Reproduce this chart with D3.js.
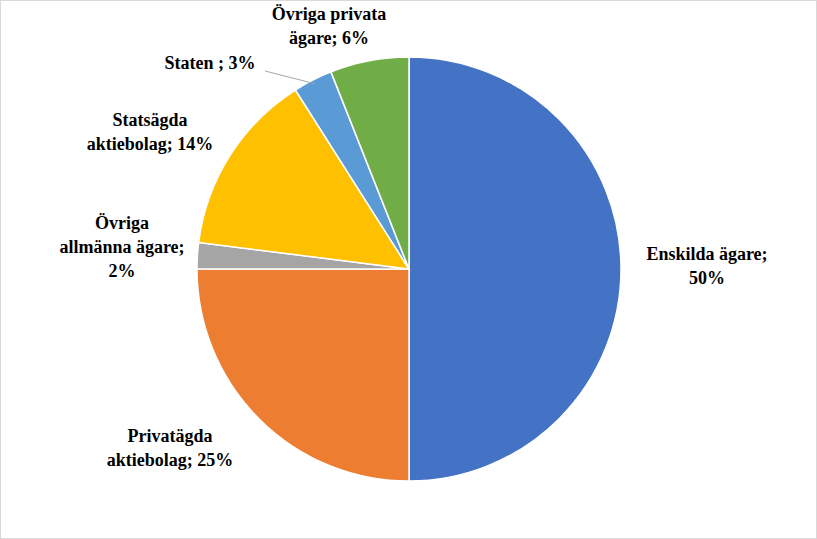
<!DOCTYPE html>
<html><head><meta charset="utf-8">
<script src="https://cdn.jsdelivr.net/npm/d3@7"></script>
<style>body{margin:0;background:#fff}</style>
</head><body><div id="chart"></div>
<script>
const categories = ["Enskilda ägare", "Privatägda aktiebolag", "Övriga allmänna ägare", "Statsägda aktiebolag", "Staten ", "Övriga privata ägare"];
const values = [50, 25, 2, 14, 3, 6];
const colors = ["#4472C4", "#ED7D31", "#A5A5A5", "#FFC000", "#5B9BD5", "#70AD47"];
// label lines + anchor position for each slice
const labelLines = [["Enskilda ägare;", "50%"], ["Privatägda", "aktiebolag; 25%"], ["Övriga", "allmänna ägare;", "2%"], ["Statsägda", "aktiebolag; 14%"], ["Staten ; 3%"], ["Övriga privata", "ägare; 6%"]];
const labelPos = [[707, 260], [170, 442], [122, 229], [150, 126], [210, 69], [329, 20]];

const width = 817, height = 539, cx = 409, cy = 269, r = 212;

const svg = d3.select("#chart").append("svg")
  .attr("width", width).attr("height", height);

svg.append("rect").attr("x", 0.5).attr("y", 0.5)
  .attr("width", width - 1).attr("height", height - 1)
  .attr("fill", "#fff").attr("stroke", "#d9d9d9");

const pie = d3.pie().sort(null).value(d => d)(values);
const arc = d3.arc().innerRadius(0).outerRadius(r);

const g = svg.append("g").attr("transform", `translate(${cx},${cy})`);
g.selectAll("path").data(pie).enter().append("path")
  .attr("d", arc)
  .attr("fill", (d, i) => colors[i])
  .attr("stroke", "#fff").attr("stroke-width", 1.5);

// leader line for the Staten label
const st = pie[4], mid = (st.startAngle + st.endAngle) / 2;
svg.append("polyline")
  .attr("points", `265,71 ${cx + Math.sin(mid) * (r - 4)},${cy - Math.cos(mid) * (r - 4)}`)
  .attr("fill", "none").attr("stroke", "#a6a6a6");

labelLines.forEach((lines, i) => {
  const t = svg.append("text")
    .attr("text-anchor", "middle")
    .attr("font-family", "'Liberation Serif', 'Times New Roman', serif")
    .attr("font-weight", "bold").attr("font-size", "18px").attr("fill", "#000");
  lines.forEach((l, j) => t.append("tspan")
    .attr("x", labelPos[i][0]).attr("y", labelPos[i][1] + j * 24).text(l));
});
</script></body></html>
